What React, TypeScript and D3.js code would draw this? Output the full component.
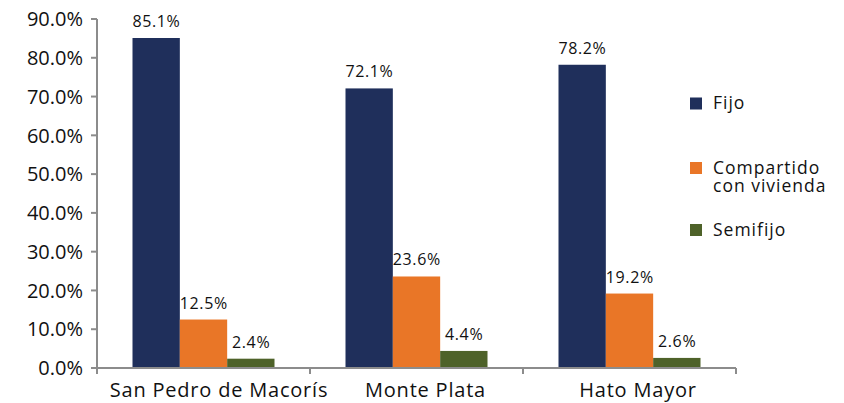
import React from "react";
import * as d3 from "d3";

const categories = ["San Pedro de Macorís", "Monte Plata", "Hato Mayor"];
const seriesNames = ["Fijo", "Compartido con vivienda", "Semifijo"];
const legendLines = [["Fijo"], ["Compartido", "con vivienda"], ["Semifijo"]];
const fijo = [85.1, 72.1, 78.2];
const compartido = [12.5, 23.6, 19.2];
const semifijo = [2.4, 4.4, 2.6];
const yTicks = [0, 10, 20, 30, 40, 50, 60, 70, 80, 90];
const colors = ["#1F2F5B", "#E97627", "#4E6229"];

const W = 844;
const H = 403;
const FONT = "'Open Sans', 'Noto Sans', sans-serif";

export default function App() {
  const series = [fijo, compartido, semifijo];
  const x0 = 97, x1 = 736, yBottom = 368, yTop = 19;
  const xScale = d3.scaleBand<string>().domain(categories).range([x0, x1]).paddingInner(1 / 3).paddingOuter(1 / 6);
  const inner = d3.scaleBand<string>().domain(seriesNames).range([0, xScale.bandwidth()]);
  const yScale = d3.scaleLinear().domain([0, 90]).range([yBottom, yTop]);
  const step = xScale.step();
  const boundaries = d3.range(categories.length + 1).map((i) => x0 + i * step);
  const legendY = [103.5, 168, 230];
  const labelShift = [15.5, 9, 8.5];
  const axisColor = "#8C8C8C";

  return (
    <svg width={W} height={H} style={{ position: "absolute", left: 0, top: 0 }} fontFamily={FONT}>
      <rect width={W} height={H} fill="#fff" />
      {/* bars */}
      {categories.map((c, ci) =>
        series.map((s, si) => {
          const bx = (xScale(c) as number) + (inner(seriesNames[si]) as number);
          const by = yScale(s[ci]);
          return (
            <g key={c + si}>
              <rect x={bx} y={by} width={inner.bandwidth()} height={yBottom - by} fill={colors[si]} />
              <text x={bx + inner.bandwidth() / 2 + 0.3} y={by - 11} textAnchor="middle" fontSize={16} letterSpacing={0.6} fill="#111">
                {s[ci].toFixed(1)}%
              </text>
            </g>
          );
        })
      )}
      {/* y axis */}
      <line x1={x0} x2={x0} y1={yTop} y2={yBottom} stroke={axisColor} strokeWidth={2} />
      {yTicks.map((t) => (
        <g key={t}>
          <line x1={x0 - 6} x2={x0} y1={yScale(t)} y2={yScale(t)} stroke={axisColor} strokeWidth={2} />
          <text x={83} y={yScale(t)} dy="0.36em" textAnchor="end" fontSize={20} fill="#111">
            {t.toFixed(1)}%
          </text>
        </g>
      ))}
      {/* x axis */}
      <line x1={x0} x2={x1} y1={yBottom} y2={yBottom} stroke={axisColor} strokeWidth={2} />
      {boundaries.map((b, i) => (
        <line key={i} x1={b} x2={b} y1={yBottom} y2={yBottom + 6} stroke={axisColor} strokeWidth={2} />
      ))}
      {categories.map((c, i) => (
        <text key={c} x={(xScale(c) as number) + xScale.bandwidth() / 2 + labelShift[i]} y={397} textAnchor="middle" fontSize={20} letterSpacing={0.8} fill="#111">
          {c}
        </text>
      ))}
      {/* legend */}
      {legendLines.map((lines, i) => (
        <g key={i}>
          <rect x={690} y={legendY[i] - 6} width={12} height={12} fill={colors[i]} />
          {lines.map((ln, li) => (
            <text key={li} x={713} y={legendY[i] + 5.5 + li * 18.5} fontSize={17.5} letterSpacing={1} fill="#111">
              {ln}
            </text>
          ))}
        </g>
      ))}
    </svg>
  );
}
